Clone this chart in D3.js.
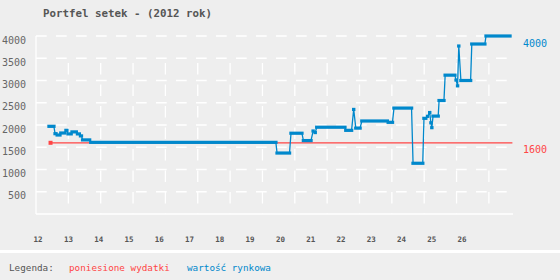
<!DOCTYPE html>
<html>
<head>
<meta charset="utf-8">
<script src="https://cdn.jsdelivr.net/npm/d3@7"></script>
<style>
  html, body { margin: 0; padding: 0; background: #eeeeee; }
  svg { display: block; }
</style>
</head>
<body>
<div class="chart"></div>
<script>
// plateaus of the market value (week number from, week number to, value)
const blueFrom = [12.36, 12.56, 12.63, 12.75, 12.92, 12.99, 13.12, 13.30, 13.40, 13.47, 13.74, 19.89, 20.35, 20.76, 21.08, 21.15, 21.20, 22.16, 22.42, 22.49, 22.69, 23.56, 23.75, 24.38, 24.74, 24.86, 24.93, 24.97, 25.00, 25.04, 25.24, 25.44, 25.80, 25.85, 25.89, 25.96, 26.32, 26.79];
const blueTo   = [12.52, 12.59, 12.72, 12.88, 12.95, 13.09, 13.26, 13.36, 13.43, 13.70, 19.85, 20.30, 20.71, 21.01, 21.08, 21.15, 22.13, 22.35, 22.42, 22.63, 23.53, 23.70, 24.33, 24.70, 24.80, 24.86, 24.93, 24.97, 25.00, 25.21, 25.40, 25.76, 25.80, 25.85, 25.89, 26.28, 26.75, 27.58];
const blueVal  = [1970, 1805, 1775, 1820, 1880, 1800, 1845, 1800, 1755, 1665, 1610, 1370, 1815, 1650, 1865, 1830, 1950, 1880, 2350, 1930, 2090, 2060, 2380, 1140, 2150, 2195, 2280, 2050, 1940, 2200, 2550, 3120, 3010, 2880, 3775, 3000, 3820, 4000];

// costs incurred
const redWeeks = [12.41, 27.66];
const redVal = [1600, 1600];

const xTicks = [12, 13, 14, 15, 16, 17, 18, 19, 20, 21, 22, 23, 24, 25, 26];
const yTicks = [500, 1000, 1500, 2000, 2500, 3000, 3500, 4000];

const title = 'Portfel setek - (2012 rok)';
const legendLabel = 'Legenda:';
const legendRed = 'poniesione wydatki';
const legendBlue = 'wartość rynkowa';

const width = 560, height = 280;
const blue = '#0088cc', red = '#ff4545', grey = '#555555';
const mono = '"DejaVu Sans Mono", "Liberation Mono", monospace';

const svg = d3.select('.chart').append('svg')
    .attr('width', width)
    .attr('height', height);

svg.append('rect').attr('width', width).attr('height', height).attr('fill', '#eeeeee');

let x = d3.scaleLinear().domain([11.93, 27.68]).range([36, 513]);
let y = d3.scaleLinear().domain([0, 4000]).range([214, 36]);

// title
svg.append('text')
    .attr('x', 43).attr('y', 16.5)
    .style('font-family', mono).style('font-size', '10.8px').style('font-weight', 'bold')
    .attr('fill', grey)
    .text(title);

// horizontal grid (dashed white)
svg.append('g').selectAll('line')
    .data(yTicks)
    .enter().append('line')
    .attr('x1', x.range()[0]).attr('x2', x.range()[1])
    .attr('y1', d => y(d)).attr('y2', d => y(d))
    .attr('stroke', '#ffffff').attr('stroke-width', 1.3)
    .attr('stroke-dasharray', '10.7,9.3');

// vertical grid, fixed pixel step
const gridStep = 32.35;
const vGrid = d3.range(1, 15).map(k => x.range()[0] + k * gridStep);
svg.append('g').selectAll('line')
    .data(vGrid)
    .enter().append('line')
    .attr('x1', d => d).attr('x2', d => d)
    .attr('y1', y(0) - 151).attr('y2', y(0))
    .attr('stroke', '#ffffff').attr('stroke-width', 1.3)
    .attr('stroke-dasharray', '11.5,10');

// axes lines
svg.append('line')
    .attr('x1', x.range()[0]).attr('x2', x.range()[0])
    .attr('y1', y(4000)).attr('y2', y(0))
    .attr('stroke', '#ffffff').attr('stroke-width', 1.3);
svg.append('line')
    .attr('x1', x.range()[0]).attr('x2', x.range()[1])
    .attr('y1', y(0)).attr('y2', y(0))
    .attr('stroke', '#ffffff').attr('stroke-width', 1.3);

// y labels
svg.append('g').selectAll('text')
    .data(yTicks)
    .enter().append('text')
    .attr('x', 26).attr('y', d => y(d) + 7.5)
    .attr('text-anchor', 'end')
    .style('font-family', mono).style('font-size', '10px')
    .attr('fill', '#666666')
    .text(d => d);

// x labels
svg.append('g').selectAll('text')
    .data(xTicks)
    .enter().append('text')
    .attr('x', d => x(d)).attr('y', 241.5)
    .attr('text-anchor', 'middle')
    .style('font-family', mono).style('font-size', '7.5px').style('font-weight', 'bold')
    .attr('fill', grey)
    .text(d => d);

// red series
const redPts = redWeeks.map((w, i) => [w, redVal[i]]);
svg.append('path')
    .datum(redPts)
    .attr('fill', 'none').attr('stroke', red).attr('stroke-width', 1.3)
    .attr('d', d3.line().x(d => x(d[0])).y(d => y(d[1])));
svg.append('rect')
    .attr('x', x(redWeeks[0]) - 2).attr('y', y(redVal[0]) - 2)
    .attr('width', 4).attr('height', 4)
    .attr('fill', red);

// blue series: thin line between plateaus, thick bars on plateaus
const bluePts = [];
blueFrom.forEach((f, i) => {
    bluePts.push([f, blueVal[i]]);
    bluePts.push([blueTo[i], blueVal[i]]);
});
svg.append('path')
    .datum(bluePts)
    .attr('fill', 'none').attr('stroke', blue).attr('stroke-width', 1.3)
    .attr('d', d3.line().x(d => x(d[0])).y(d => y(d[1])));
svg.append('g').selectAll('rect')
    .data(blueFrom)
    .enter().append('rect')
    .attr('x', (d, i) => x(d) - 1.7)
    .attr('y', (d, i) => y(blueVal[i]) - 1.6)
    .attr('width', (d, i) => x(blueTo[i]) - x(d) + 3.4)
    .attr('height', 3.2)
    .attr('fill', blue);

// end labels on the right
svg.append('text')
    .attr('x', 523).attr('y', y(blueVal[blueVal.length - 1]) + 10.5)
    .style('font-family', mono).style('font-size', '10px')
    .attr('fill', blue)
    .text(blueVal[blueVal.length - 1]);
svg.append('text')
    .attr('x', 523).attr('y', y(redVal[redVal.length - 1]) + 10)
    .style('font-family', mono).style('font-size', '10px')
    .attr('fill', red)
    .text(redVal[redVal.length - 1]);

// legend band
svg.append('rect')
    .attr('x', 0).attr('y', 250).attr('width', width).attr('height', 3)
    .attr('fill', '#ffffff');
svg.append('rect')
    .attr('x', 0).attr('y', 253).attr('width', width).attr('height', height - 253)
    .attr('fill', '#efefef');

const legend = [
    { text: legendLabel, x: 9, color: grey },
    { text: legendRed, x: 69, color: red },
    { text: legendBlue, x: 187, color: blue }
];
svg.append('g').selectAll('text')
    .data(legend)
    .enter().append('text')
    .attr('x', d => d.x).attr('y', 270.5)
    .style('font-family', mono).style('font-size', '9.3px')
    .attr('fill', d => d.color)
    .text(d => d.text);
</script>
</body>
</html>
